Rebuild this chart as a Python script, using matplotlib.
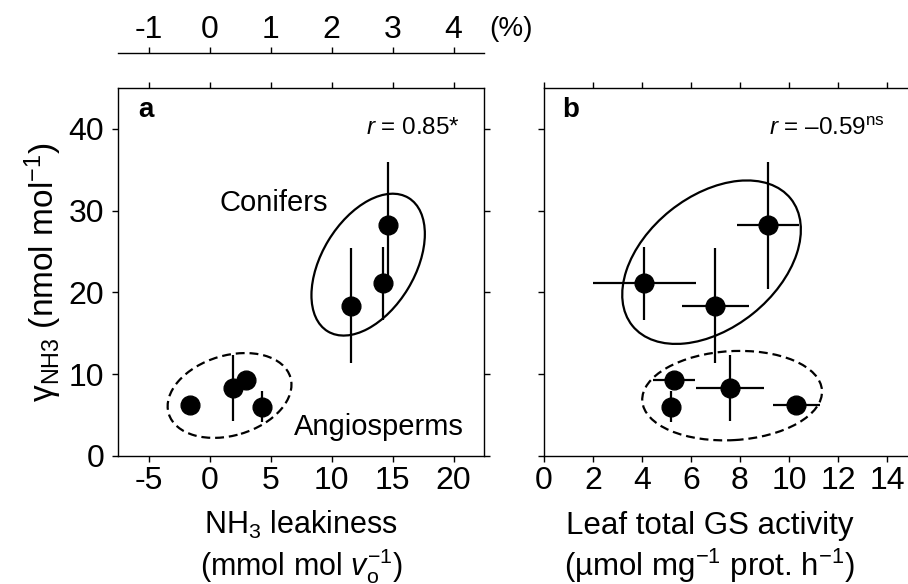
import numpy as np
import matplotlib.pyplot as plt
from matplotlib.patches import Ellipse
from matplotlib.transforms import ScaledTranslation

plt.rcParams['font.family'] = ['Liberation Sans', 'DejaVu Sans']
plt.rcParams['mathtext.fontset'] = 'custom'
plt.rcParams['mathtext.rm'] = 'Liberation Sans'
plt.rcParams['mathtext.it'] = 'Liberation Sans:italic'
plt.rcParams['mathtext.bf'] = 'Liberation Sans:bold'
plt.rcParams['axes.unicode_minus'] = False

# data: 3 conifers, 4 angiosperms (same order in both panels)
leakiness = [-1.6, 1.9, 3.0, 4.3, 11.6, 14.2, 14.6]
gamma_nh3 = [6.2, 8.3, 9.35, 6.0, 18.4, 21.1, 28.2]
gamma_err = [0, 4.0, 0, 1.9, 7.0, 4.5, 7.8]
gs_activity = [10.3, 7.6, 5.3, 5.2, 7.0, 4.1, 9.15]
gs_err = [0.95, 1.38, 0.87, 0, 1.37, 2.1, 1.27]

leak_ticks = [-5, 0, 5, 10, 15, 20]
pct_ticks = [-1, 0, 1, 2, 3, 4]
gs_ticks = [0, 2, 4, 6, 8, 10, 12, 14]
y_ticks = [0, 10, 20, 30, 40]

# group outlines: centre (data), width/height (px), angle (deg), style
ellipses_a = [((13.0, 23.4), 156, 93, 58.8, '-'),
              ((1.64, 7.4), 127, 80, 16.6, '--')]
ellipses_b = [((6.84, 23.7), 203, 132, 38.7, '-'),
              ((7.68, 7.38), 180, 89, 3.3, '--')]

FS = 23

fig = plt.figure(figsize=(9.08, 5.84), dpi=100)
ax1 = fig.add_axes([0.1300, 0.2192, 0.4031, 0.6301])
ax2 = fig.add_axes([0.5991, 0.2192, 0.4047, 0.6301])


def draw_ellipses(ax, specs):
    for (cx, cy), w, h, ang, ls in specs:
        tr = fig.dpi_scale_trans + ScaledTranslation(cx, cy, ax.transData)
        e = Ellipse((0, 0), w / 100, h / 100, angle=ang, transform=tr,
                    fill=False, lw=1.6, ls=ls, color='black')
        if ls == '--':
            e.set_linestyle((0, (4, 2.2)))
        ax.add_patch(e)


for ax in (ax1, ax2):
    ax.set_ylim(0, 45)
    ax.set_yticks(y_ticks)
    for s in ax.spines.values():
        s.set_linewidth(1.0)
    ax.tick_params(direction='out', length=4, width=1, labelsize=FS, pad=3,
                   top=True, labeltop=False)
    ax.tick_params(axis='y', pad=6)

# panel a
ax1.errorbar(leakiness, gamma_nh3, yerr=gamma_err, fmt='o', color='black',
             ms=13.5, elinewidth=1.6, capsize=0, zorder=3)
draw_ellipses(ax1, ellipses_a)
ax1.set_xlim(-7.5, 22.5)
ax1.set_xticks(leak_ticks)
ax1.tick_params(axis='y', right=True, labelright=False)
ax1.set_xlabel('NH$_3$ leakiness\n(mmol mol $\\mathit{v}_\\mathrm{o}^{-1}$)',
               fontsize=22, linespacing=1.15, va='top')
ax1.xaxis.set_label_coords(0.5, -0.145)
ax1.set_ylabel('$\\mathregular{γ_{NH3}}$ (nmol mol$^{-1}$)', fontsize=24, labelpad=3)
ax1.text(0.055, 0.975, 'a', transform=ax1.transAxes, fontsize=20,
         fontweight='bold', va='top', ha='left')
ax1.text(0.935, 0.89, '$\\mathit{r}$ = 0.85*', transform=ax1.transAxes,
         fontsize=17.5, ha='right', va='center')
ax1.text(5.3, 30.9, 'Conifers', fontsize=21, ha='center', va='center')
ax1.text(13.9, 3.5, 'Angiosperms', fontsize=21, ha='center', va='center')

sec = ax1.secondary_xaxis(1.095, functions=(lambda x: x / 5, lambda p: p * 5))
sec.set_xticks(pct_ticks)
sec.spines['top'].set_linewidth(1.0)
sec.tick_params(direction='out', length=4, width=1, labelsize=FS, pad=2)
ax1.text(1.015, 1.16, '(%)', transform=ax1.transAxes, fontsize=20,
         ha='left', va='center')

# panel b
ax2.errorbar(gs_activity, gamma_nh3, xerr=gs_err, yerr=gamma_err, fmt='o',
             color='black', ms=13.5, elinewidth=1.6, capsize=0, zorder=3)
draw_ellipses(ax2, ellipses_b)
ax2.set_xlim(0, 15)
ax2.set_xticks(gs_ticks)
ax2.tick_params(axis='y', labelleft=False)
ax2.set_xlabel('Leaf total GS activity\n(µmol mg$^{-1}$ prot. h$^{-1}$)',
               fontsize=22.5, linespacing=1.2, va='top')
ax2.xaxis.set_label_coords(0.45, -0.15)
ax2.text(0.05, 0.975, 'b', transform=ax2.transAxes, fontsize=20,
         fontweight='bold', va='top', ha='left')
ax2.text(0.928, 0.89, '$\\mathit{r}$ = –0.59$^{\\mathrm{ns}}$', transform=ax2.transAxes,
         fontsize=17.5, ha='right', va='center')

fig.savefig('out.png', dpi=100)
